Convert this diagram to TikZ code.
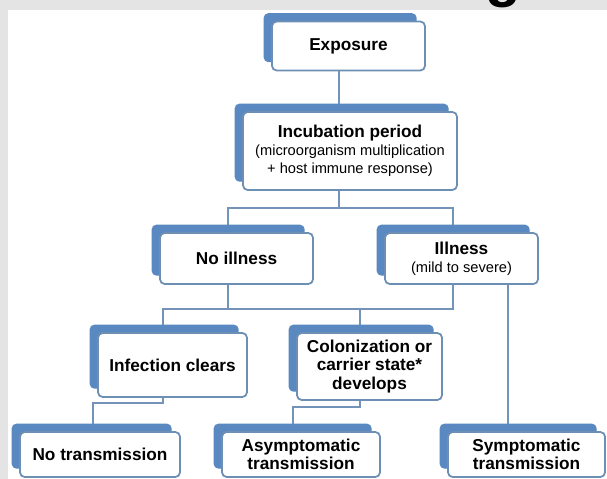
\documentclass[tikz,border=0pt]{standalone}
\usepackage{fontspec}
\setmainfont{Liberation Sans}
\usetikzlibrary{shadows,backgrounds}

\definecolor{shadowblue}{HTML}{5A88C0}
\definecolor{boxline}{HTML}{6E8FB4}
\definecolor{linkline}{HTML}{7393B8}
\definecolor{panelgray}{HTML}{E4E4E4}

\tikzset{
  box/.style={draw=boxline, fill=white, line width=1.5pt, rounded corners=4pt,
    align=center, inner sep=0pt, font=\fontsize{14.7}{15.5}\selectfont\bfseries,
    general shadow={shadow xshift=-0.25cm, shadow yshift=0.25cm, fill=shadowblue, draw=none}},
  link/.style={draw=linkline, line width=2pt}
}
\newcommand{\subtxt}{\fontsize{12.5}{14}\selectfont\mdseries}

\begin{document}
\begin{tikzpicture}[x=0.03cm, y=-0.03cm]

\useasboundingbox (0,0) rectangle (607,479);
\clip (0,0) rectangle (607,479);

% titre coupe
\node[anchor=base, font=\fontsize{50}{50}\selectfont\bfseries] (titleg) at (503,-4) {g};

% boites
\node[box, minimum width=153*0.03cm, minimum height=49*0.03cm] (exp) at (348.5,46) {Exposure};
\node[box, minimum width=214*0.03cm, minimum height=78*0.03cm] (inc) at (350,151)
  {Incubation period\\{\subtxt (microorganism multiplication}\\{\subtxt + host immune response)}};
\node[box, minimum width=153*0.03cm, minimum height=51*0.03cm] (noill) at (236.5,258.5) {No illness};
\node[box, minimum width=153*0.03cm, minimum height=51*0.03cm] (ill) at (461.5,258.5)
  {Illness\\{\subtxt (mild to severe)}};
\node[box, minimum width=149*0.03cm, minimum height=64*0.03cm] (clear) at (172.5,365) {Infection clears};
\node[box, minimum width=145*0.03cm, minimum height=67*0.03cm] (colon) at (369.5,366.5)
  {Colonization or\\carrier state*\\develops};
\node[box, minimum width=160*0.03cm, minimum height=45*0.03cm] (notr) at (100,454.5) {No transmission};
\node[box, minimum width=158*0.03cm, minimum height=45*0.03cm] (asym) at (301,454.5) {Asymptomatic\\transmission};
\node[box, minimum width=157*0.03cm, minimum height=45*0.03cm] (symp) at (526.5,454.5) {Symptomatic\\transmission};

% liaisons
\coordinate (top) at (339,90);
\coordinate (fork) at (339,208);
\coordinate (forkl) at (228,208);
\coordinate (forkr) at (453,208);
\coordinate (merge) at (228,309);
\coordinate (mergel) at (163,309);
\coordinate (mergec) at (360,309);
\coordinate (merger) at (453,309);
\coordinate (clearbend) at (93,403);
\coordinate (colonbend) at (293,407);
\coordinate (sympath) at (508,380);

\begin{scope}[on background layer]
% fond
\fill[panelgray] (0,0) rectangle (607,479);
\fill[white] (8,10) rectangle (607,479);
\draw[link] (exp.south -| top) -- (inc.north -| top);
\draw[link] (inc.south -| fork) -- (fork);
\draw[link] (noill.north -| forkl) -- (forkl) -- (forkr) -- (ill.north -| forkr);
\draw[link] (noill.south -| merge) -- (merge);
\draw[link] (ill.south -| merger) -- (merger) -- (mergel) -- (clear.north -| mergel);
\draw[link] (mergec) -- (colon.north -| mergec);
\draw[link] (clear.south -| mergel) -- (mergel |- clearbend) -- (clearbend) -- (notr.north -| clearbend);
\draw[link] (colon.south -| mergec) -- (mergec |- colonbend) -- (colonbend) -- (asym.north -| colonbend);
\draw[link] (ill.south -| sympath) -- (symp.north -| sympath);
\end{scope}

\end{tikzpicture}
\end{document}
